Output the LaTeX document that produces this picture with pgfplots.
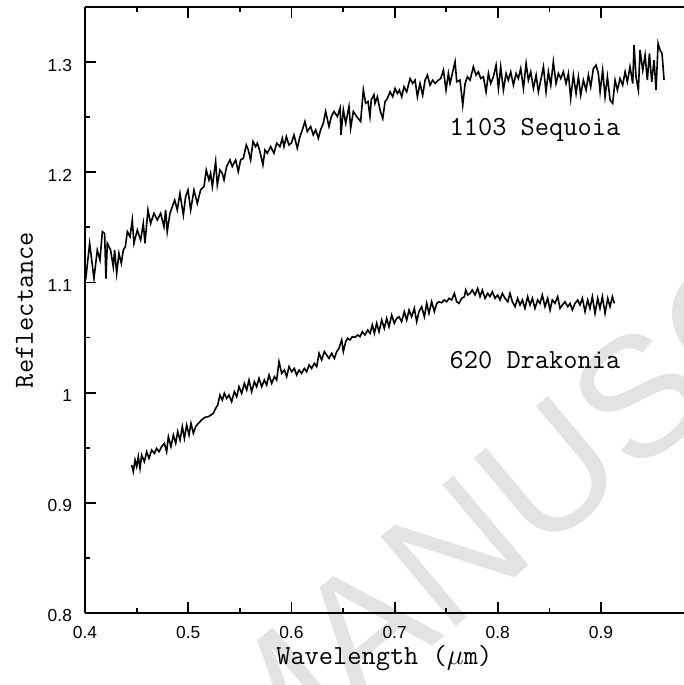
\documentclass[border=0pt]{standalone}
\usepackage{pgfplots}
\pgfplotsset{compat=1.18}
\usepackage{fontspec}
\setsansfont{Liberation Sans}
\begin{document}
\begin{tikzpicture}
\useasboundingbox (-42.5pt,-36pt) rectangle (299.5pt,306.5pt);
\node[rotate=40, text=black!11, font=\sffamily\fontsize{85}{85}\selectfont, inner sep=0pt] at (279pt,110pt) {MANUSCRIPT};
\begin{axis}[
  at={(0pt,0pt)}, anchor=south west,
  scale only axis, width=299.3pt, height=303pt,
  xmin=0.4, xmax=0.98, ymin=0.8, ymax=1.35,
  axis x line*=box, axis y line*=left,
  axis line style={line width=1pt},
  xtick={0.4,0.5,0.6,0.7,0.8,0.9},
  ytick={0.8,0.9,1.0,1.1,1.2,1.3},
  yticklabels={0.8,0.9,1,1.1,1.2,1.3},
  xticklabels={0.4,0.5,0.6,0.7,0.8,0.9},
  minor x tick num=1, minor y tick num=1,
  tick align=inside,
  major tick length=5.5pt, minor tick length=2.7pt,
  every tick/.style={line width=0.9pt, black},
  ticklabel style={font=\sffamily\fontsize{8.7}{10}\selectfont},
  xticklabel style={yshift=-3pt},
  yticklabel style={xshift=-3pt, yshift=-1.5pt},
  /pgf/number format/assume math mode=true,
  xlabel={Wavelength ($\mu$m)},
  ylabel={Reflectance},
  label style={font=\ttfamily\fontsize{13.8}{16}\selectfont},
  xlabel style={at={(axis description cs:0.5,-0.0858)}, anchor=base},
  ylabel style={at={(axis description cs:-0.0869,0.5)}, anchor=base},
  clip=false,
]
\addplot[black, line width=0.8pt] coordinates {
(0.4006,1.1021) (0.4045,1.1355) (0.4087,1.1036) (0.4119,1.1294) (0.4145,1.1203)
(0.4168,1.1461) (0.4190,1.1445) (0.4203,1.1036) (0.4216,1.1355) (0.4248,1.1294)
(0.4274,1.1142) (0.4287,1.1294) (0.4307,1.1082) (0.4329,1.1264) (0.4352,1.1173)
(0.4371,1.1294) (0.4391,1.1324) (0.4410,1.1461) (0.4436,1.1415) (0.4458,1.1567)
(0.4474,1.1355) (0.4507,1.1476) (0.4539,1.1385) (0.4565,1.1536) (0.4581,1.1355)
(0.4610,1.1658) (0.4636,1.1536) (0.4668,1.1627) (0.4701,1.1567) (0.4733,1.1627)
(0.4765,1.1506) (0.4781,1.1658) (0.4797,1.1461) (0.4823,1.1627) (0.4846,1.1688)
(0.4869,1.1748) (0.4894,1.1658) (0.4920,1.1809) (0.4953,1.1612) (0.4975,1.1779)
(0.4998,1.1839) (0.5024,1.1658) (0.5056,1.1839) (0.5088,1.1718) (0.5120,1.1839)
(0.5153,1.1870) (0.5175,1.2021) (0.5201,1.1930) (0.5217,1.1991) (0.5234,1.1870)
(0.5266,1.2097) (0.5282,1.1885) (0.5308,1.2021) (0.5330,1.1991) (0.5347,1.1930)
(0.5372,1.2052) (0.5405,1.2112) (0.5427,1.2052) (0.5460,1.2112) (0.5485,1.2006)
(0.5508,1.2112) (0.5534,1.2127) (0.5563,1.2248) (0.5582,1.2203) (0.5605,1.2112)
(0.5628,1.2279) (0.5653,1.2233) (0.5670,1.2264) (0.5695,1.2188) (0.5724,1.2067)
(0.5744,1.2203) (0.5766,1.2173) (0.5799,1.2233) (0.5831,1.2173) (0.5857,1.2264)
(0.5889,1.2233) (0.5912,1.2309) (0.5928,1.2233) (0.5951,1.2324) (0.5976,1.2248)
(0.5999,1.2264) (0.6025,1.2339) (0.6057,1.2218) (0.6083,1.2324) (0.6106,1.2385)
(0.6131,1.2461) (0.6154,1.2370) (0.6186,1.2415) (0.6212,1.2339) (0.6235,1.2385)
(0.6261,1.2309) (0.6283,1.2385) (0.6309,1.2445) (0.6332,1.2552) (0.6364,1.2415)
(0.6387,1.2506) (0.6412,1.2552) (0.6445,1.2506) (0.6472,1.2582) (0.6480,1.2339)
(0.6503,1.2567) (0.6526,1.2445) (0.6558,1.2597) (0.6574,1.2400) (0.6600,1.2552)
(0.6632,1.2506) (0.6671,1.2461) (0.6697,1.2748) (0.6719,1.2627) (0.6742,1.2642)
(0.6761,1.2506) (0.6774,1.2658) (0.6800,1.2703)
(0.6810,1.2625) (0.6833,1.2685) (0.6859,1.2564) (0.6885,1.2488) (0.6907,1.2640)
(0.6930,1.2670) (0.6956,1.2730) (0.6982,1.2685) (0.7004,1.2761) (0.7027,1.2715)
(0.7046,1.2746) (0.7069,1.2685) (0.7091,1.2776) (0.7117,1.2730) (0.7150,1.2851)
(0.7175,1.2806) (0.7198,1.2836) (0.7221,1.2685) (0.7246,1.2806) (0.7272,1.2700)
(0.7295,1.2836) (0.7318,1.2882) (0.7343,1.2791) (0.7369,1.2836) (0.7392,1.2806)
(0.7424,1.2836) (0.7447,1.2851) (0.7473,1.2927) (0.7498,1.2746) (0.7521,1.2897)
(0.7537,1.2806) (0.7563,1.2912) (0.7586,1.3003) (0.7602,1.2821) (0.7634,1.2836)
(0.7660,1.2609) (0.7683,1.2806) (0.7705,1.2867) (0.7731,1.2836) (0.7763,1.2957)
(0.7789,1.2882) (0.7812,1.2912) (0.7834,1.2851) (0.7860,1.2867) (0.7886,1.2730)
(0.7909,1.2897) (0.7931,1.2806) (0.7957,1.2867) (0.7983,1.2972) (0.8006,1.2761)
(0.8028,1.2957) (0.8054,1.2746) (0.8080,1.2897) (0.8102,1.2836) (0.8125,1.2912)
(0.8151,1.2791) (0.8177,1.2897) (0.8199,1.2851) (0.8222,1.2942) (0.8248,1.2761)
(0.8274,1.2988) (0.8296,1.2836) (0.8319,1.2912) (0.8345,1.2761) (0.8371,1.2882)
(0.8393,1.2730) (0.8416,1.2836) (0.8442,1.2957) (0.8467,1.2730) (0.8490,1.2912)
(0.8513,1.2791) (0.8538,1.3003) (0.8564,1.2806) (0.8587,1.2897) (0.8610,1.2851)
(0.8635,1.2912) (0.8661,1.2806) (0.8684,1.2897) (0.8706,1.2670) (0.8732,1.2882)
(0.8758,1.2715) (0.8781,1.2867) (0.8803,1.2700) (0.8829,1.2836) (0.8855,1.2746)
(0.8878,1.2882) (0.8900,1.2776) (0.8926,1.2942) (0.8952,1.2972) (0.8974,1.2897)
(0.8991,1.2730) (0.9016,1.2927) (0.9039,1.2685) (0.9062,1.2867) (0.9088,1.2655)
(0.9113,1.2625) (0.9136,1.2836) (0.9159,1.2746) (0.9184,1.2851) (0.9210,1.2791)
(0.9233,1.2912) (0.9255,1.2821) (0.9281,1.2957) (0.9307,1.2806) (0.9320,1.3154)
(0.9339,1.2867) (0.9362,1.2746) (0.9378,1.3109) (0.9404,1.2927) (0.9427,1.3063)
(0.9449,1.2836) (0.9469,1.3078) (0.9491,1.2821) (0.9514,1.3018) (0.9533,1.2746)
(0.9553,1.3169) (0.9572,1.3109) (0.9591,1.3078) (0.9611,1.2836)
};
\addplot[black, line width=0.8pt] coordinates {
(0.4452,0.9343) (0.4468,0.9283) (0.4485,0.9389) (0.4501,0.9328) (0.4517,0.9419)
(0.4533,0.9313) (0.4549,0.9434) (0.4575,0.9373) (0.4598,0.9464) (0.4620,0.9404)
(0.4646,0.9479) (0.4672,0.9449) (0.4694,0.9494) (0.4717,0.9464) (0.4743,0.9510)
(0.4769,0.9540) (0.4791,0.9464) (0.4808,0.9600) (0.4833,0.9510) (0.4856,0.9615)
(0.4879,0.9540) (0.4898,0.9646) (0.4921,0.9570) (0.4943,0.9691) (0.4963,0.9585)
(0.4985,0.9706) (0.5008,0.9615) (0.5027,0.9721) (0.5050,0.9631) (0.5072,0.9691)
(0.5098,0.9721) (0.5130,0.9752) (0.5163,0.9776) (0.5195,0.9782) (0.5221,0.9797)
(0.5243,0.9812) (0.5266,0.9857) (0.5286,0.9888) (0.5308,0.9978) (0.5331,0.9933)
(0.5350,0.9994) (0.5373,0.9948) (0.5395,0.9978) (0.5421,0.9918) (0.5447,1.0009)
(0.5470,0.9963) (0.5492,1.0054) (0.5518,0.9994) (0.5544,1.0084) (0.5567,1.0024)
(0.5589,1.0115) (0.5615,1.0009) (0.5641,1.0099) (0.5663,1.0054) (0.5686,1.0130)
(0.5712,1.0054) (0.5738,1.0115) (0.5760,1.0069) (0.5783,1.0160) (0.5809,1.0084)
(0.5835,1.0145) (0.5857,1.0115) (0.5880,1.0281) (0.5906,1.0175) (0.5932,1.0205)
(0.5954,1.0145) (0.5977,1.0236) (0.6003,1.0190) (0.6028,1.0220) (0.6051,1.0160)
(0.6074,1.0205) (0.6099,1.0175) (0.6125,1.0220) (0.6148,1.0190) (0.6171,1.0251)
(0.6196,1.0220) (0.6222,1.0266) (0.6245,1.0236) (0.6268,1.0357) (0.6293,1.0296)
(0.6319,1.0372) (0.6342,1.0341) (0.6364,1.0311) (0.6390,1.0357) (0.6416,1.0311)
(0.6439,1.0372) (0.6461,1.0402) (0.6487,1.0478) (0.6503,1.0372) (0.6526,1.0462)
(0.6545,1.0493) (0.6568,1.0478) (0.6590,1.0508) (0.6616,1.0502) (0.6642,1.0523)
(0.6665,1.0508) (0.6687,1.0553) (0.6713,1.0523) (0.6739,1.0568) (0.6762,1.0538)
(0.6784,1.0614) (0.6804,1.0538) (0.6826,1.0629) (0.6849,1.0553) (0.6875,1.0659)
(0.6900,1.0583) (0.6923,1.0674) (0.6946,1.0598) (0.6972,1.0704) (0.6997,1.0629)
(0.7020,1.0674) (0.7043,1.0689) (0.7068,1.0644) (0.7094,1.0735) (0.7117,1.0659)
(0.7140,1.0750) (0.7165,1.0689) (0.7191,1.0765) (0.7214,1.0644) (0.7236,1.0735)
(0.7262,1.0780) (0.7288,1.0689) (0.7311,1.0810) (0.7333,1.0720) (0.7359,1.0825)
(0.7385,1.0735) (0.7408,1.0810) (0.7430,1.0825) (0.7456,1.0816) (0.7482,1.0841)
(0.7505,1.0825) (0.7527,1.0856) (0.7553,1.0841) (0.7579,1.0901) (0.7601,1.0825)
(0.7624,1.0810) (0.7650,1.0856) (0.7676,1.0871) (0.7689,1.0931) (0.7708,1.0886)
(0.7731,1.0901) (0.7753,1.0931) (0.7779,1.0886) (0.7805,1.0946) (0.7828,1.0871)
(0.7850,1.0931) (0.7876,1.0856) (0.7902,1.0901) (0.7924,1.0871) (0.7947,1.0916)
(0.7973,1.0856) (0.7999,1.0886) (0.8021,1.0841) (0.8044,1.0901) (0.8070,1.0856)
(0.8096,1.0825) (0.8118,1.0901) (0.8141,1.0825) (0.8167,1.0780) (0.8192,1.0856)
(0.8215,1.0795) (0.8238,1.0841) (0.8263,1.0765) (0.8289,1.0871) (0.8312,1.0795)
(0.8335,1.0856) (0.8360,1.0765) (0.8386,1.0841) (0.8409,1.0810) (0.8431,1.0886)
(0.8457,1.0780) (0.8483,1.0856) (0.8506,1.0750) (0.8528,1.0841) (0.8554,1.0810)
(0.8580,1.0871) (0.8603,1.0765) (0.8625,1.0795) (0.8651,1.0825) (0.8677,1.0780)
(0.8700,1.0810) (0.8722,1.0750) (0.8748,1.0810) (0.8774,1.0841) (0.8796,1.0795)
(0.8819,1.0856) (0.8845,1.0735) (0.8871,1.0841) (0.8893,1.0765) (0.8916,1.0871)
(0.8942,1.0720) (0.8968,1.0856) (0.8990,1.0765) (0.9013,1.0871) (0.9039,1.0720)
(0.9065,1.0856) (0.9087,1.0780) (0.9110,1.0871) (0.9129,1.0810)
};
\node[anchor=base, font=\ttfamily\fontsize{13.8}{16}\selectfont] at (axis cs:0.836,1.2338) {1103 Sequoia};
\node[anchor=base, font=\ttfamily\fontsize{13.8}{16}\selectfont] at (axis cs:0.836,1.0223) {620 Drakonia};
\end{axis}
\end{tikzpicture}
\end{document}
